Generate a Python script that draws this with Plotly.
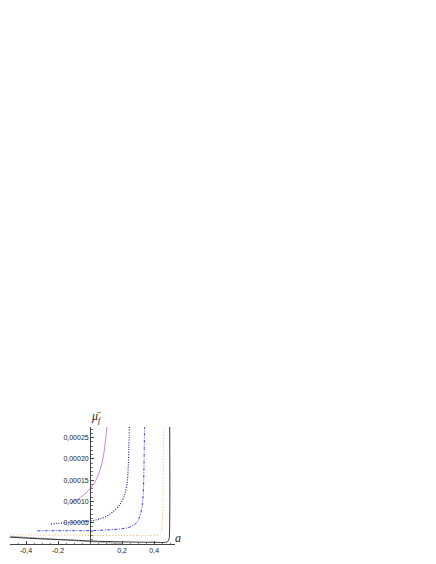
import plotly.graph_objects as go

# ---- data ----
purple_x = [-0.12, -0.08, -0.04, 0.0, 0.03, 0.06, 0.08, 0.095, 0.105]
purple_y = [0.0000967, 0.000105, 0.000115, 0.00013, 0.000145, 0.000172, 0.0002, 0.00024, 0.000275]

navy_x = [-0.245, -0.15, -0.05, 0.0, 0.05, 0.1, 0.15, 0.19, 0.215, 0.23, 0.238, 0.242, 0.245]
navy_y = [0.000047, 0.00005, 0.000052, 0.000054, 0.000058, 0.000065, 0.000078, 0.000095, 0.000115, 0.00014, 0.00018, 0.00023, 0.000275]

blue_x = [-0.33, -0.2, -0.1, 0.0, 0.1, 0.2, 0.25, 0.29, 0.31, 0.325, 0.333, 0.337, 0.34]
blue_y = [0.000031, 0.0000312, 0.0000313, 0.0000315, 0.000033, 0.000036, 0.00004, 0.00005, 0.000065, 0.00009, 0.00013, 0.0002, 0.000275]

orange_x = [-0.5, -0.3, -0.1, 0.0, 0.2, 0.4, 0.43, 0.445, 0.452, 0.456, 0.458]
orange_y = [0.000022, 0.000021, 0.000021, 0.00002, 0.00002, 0.00002, 0.000022, 0.00003, 0.00006, 0.00015, 0.000275]

black_x = [-0.5, -0.3, -0.1, 0.0, 0.2, 0.4, 0.47, 0.485, 0.493, 0.496, 0.497]
black_y = [0.000016, 0.000012, 0.000009, 0.000007, 0.000005, 0.000004, 0.000004, 0.000006, 0.000012, 0.00003, 0.000275]

gray_x = [-0.5, -0.3, -0.1, 0.0, 0.1, 0.2]
gray_y = [0.000018, 0.000013, 0.000008, 0.000005, 0.000003, 0.000001]

x_tickvals = [-0.4, -0.2, 0.2, 0.4]
x_ticktext = ["-0,4", "-0,2", "0,2", "0,4"]
y_tickvals = [0.00005, 0.0001, 0.00015, 0.0002, 0.00025]
y_ticktext = ["0,00005", "0,00010", "0,00015", "0,00020", "0,00025"]

X_RANGE = [-0.5, 0.53]
Y_RANGE = [0, 0.000275]

fig = go.Figure()
fig.add_trace(go.Scatter(x=gray_x, y=gray_y, mode="lines", line=dict(color="#b0b0b0", width=1.2)))
fig.add_trace(go.Scatter(x=black_x, y=black_y, mode="lines", line=dict(color="#333333", width=1, shape="spline")))
fig.add_trace(go.Scatter(x=orange_x, y=orange_y, mode="lines", line=dict(color="#ffb060", width=1, dash="1px,2px", shape="spline")))
fig.add_trace(go.Scatter(x=blue_x, y=blue_y, mode="lines", line=dict(color="#3a3aff", width=1, dash="3px,1.5px,1px,1.5px", shape="spline")))
fig.add_trace(go.Scatter(x=navy_x, y=navy_y, mode="lines", line=dict(color="#20209a", width=1.2, dash="1px,1.5px", shape="spline")))
fig.add_trace(go.Scatter(x=purple_x, y=purple_y, mode="lines", line=dict(color="#c884d4", width=1, shape="spline")))

ypos = (0 - X_RANGE[0]) / (X_RANGE[1] - X_RANGE[0])

tickfont = dict(family="Liberation Sans, Arial, sans-serif", size=7, color="#222222")
fig.update_layout(
    width=428, height=556,
    margin=dict(l=2, r=261, t=419, b=20),
    paper_bgcolor="white", plot_bgcolor="white",
    showlegend=False,
    xaxis=dict(range=X_RANGE, showgrid=False, zeroline=False, showline=True, linecolor="#444444", linewidth=1,
               automargin=False,
               tickvals=x_tickvals, ticktext=x_ticktext, ticks="inside", ticklen=3, tickcolor="#444444",
               tickfont=tickfont, minor=dict(dtick=0.05, ticks="inside", ticklen=1.5, tickcolor="#777777")),
    yaxis=dict(range=Y_RANGE, showgrid=False, zeroline=False, showline=True, linecolor="#444444", linewidth=1,
               anchor="free", position=ypos, automargin=False,
               tickvals=y_tickvals, ticktext=y_ticktext, ticks="inside", ticklen=3, tickcolor="#444444",
               tickfont=tickfont, minor=dict(dtick=0.00001, ticks="inside", ticklen=1.5, tickcolor="#777777")),
)
fig.add_annotation(x=ypos, xref="paper", y=1.0, yref="paper", yshift=20, xshift=6,
                   text="<i>μ̄</i><sub><i>f</i></sub>", showarrow=False,
                   font=dict(family="Liberation Serif, Times New Roman, serif", size=12, color="#222222"))
fig.add_annotation(x=1.0, xref="paper", y=0, yref="paper", xshift=-2, yshift=-3,
                   text="<i>a</i>", showarrow=False, xanchor="left",
                   font=dict(family="Liberation Serif, Times New Roman, serif", size=12, color="#222222"))

fig.write_html("out.html")
